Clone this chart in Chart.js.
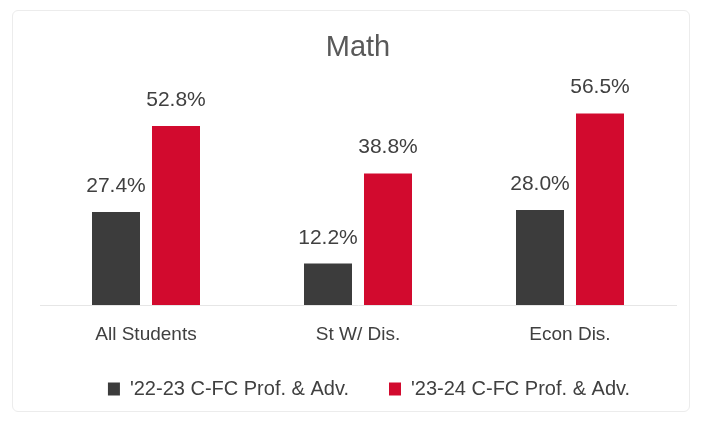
<!DOCTYPE html>
<html>
<head>
<meta charset="utf-8">
<script src="https://cdn.jsdelivr.net/npm/chart.js@4.4.1/dist/chart.umd.min.js"></script>
<style>
  html, body { margin: 0; padding: 0; background: #ffffff; }
  #wrap { position: relative; width: 703px; height: 423px; }
  #frame { position: absolute; left: 12px; top: 10px; width: 678px; height: 402px;
           border: 1px solid #ececec; border-radius: 6px; box-sizing: border-box; }
  canvas { position: absolute; left: 0; top: 0; }
</style>
</head>
<body>
<div id="wrap">
  <div id="frame"></div>
  <canvas id="mathChart" width="703" height="423"></canvas>
</div>
<script>
// datos del gráfico
const categorias = ['All Students', 'St W/ Dis.', 'Econ Dis.'];
const serie2223 = [27.4, 12.2, 28.0];
const serie2324 = [52.8, 38.8, 56.5];
const nombresSeries = ["'22-23 C-FC Prof. & Adv.", "'23-24 C-FC Prof. & Adv."];

const fuente = "'Liberation Sans', Arial, sans-serif";

// plugin sencillo para escribir el valor encima de cada barra
const etiquetasValor = {
  id: 'etiquetasValor',
  afterDatasetsDraw(chart) {
    const ctx = chart.ctx;
    ctx.save();
    ctx.font = '21px ' + fuente;
    ctx.fillStyle = '#404040';
    ctx.textAlign = 'center';
    ctx.textBaseline = 'alphabetic';
    chart.data.datasets.forEach((ds, i) => {
      chart.getDatasetMeta(i).data.forEach((bar, j) => {
        ctx.fillText(ds.data[j].toFixed(1) + '%', bar.x, bar.y - 20);
      });
    });
    ctx.restore();
  }
};

// la leyenda del original está algo desplazada a la derecha y más arriba
const moverLeyenda = {
  id: 'moverLeyenda',
  afterLayout(chart) {
    const lg = chart.legend;
    if (lg) {
      lg.left += 11;
      lg.right += 11;
      lg.top -= 7;
      lg.bottom -= 7;
    }
  }
};

document.addEventListener('DOMContentLoaded', function () {
  const ctx = document.getElementById('mathChart').getContext('2d');
  new Chart(ctx, {
    type: 'bar',
    data: {
      labels: categorias,
      datasets: [{
        label: nombresSeries[0],
        data: serie2223,
        backgroundColor: '#3c3c3c'
      }, {
        label: nombresSeries[1],
        data: serie2324,
        backgroundColor: '#d20a2e'
      }]
    },
    options: {
      responsive: false,
      animation: false,
      layout: { padding: { top: 12, left: 40, right: 27, bottom: 7 } },
      datasets: { bar: { categoryPercentage: 0.566, barPercentage: 0.8 } },
      plugins: {
        title: {
          display: true,
          text: 'Math',
          color: '#595959',
          font: { family: fuente, size: 29, weight: 'normal' },
          padding: { top: 19, bottom: 14 }
        },
        legend: {
          position: 'bottom',
          labels: {
            color: '#404040',
            font: { family: fuente, size: 20 },
            boxWidth: 12,
            boxHeight: 13,
            padding: 40
          }
        },
        tooltip: { enabled: false }
      },
      scales: {
        x: {
          grid: { display: false },
          border: { display: true, color: '#e6e6e6' },
          ticks: { color: '#404040', font: { family: fuente, size: 19 }, padding: 10 },
          afterFit: (scale) => { scale.height = 41; }
        },
        y: {
          display: false,
          min: 0,
          max: 66.4
        }
      }
    },
    plugins: [etiquetasValor, moverLeyenda]
  });
});
</script>
</body>
</html>
